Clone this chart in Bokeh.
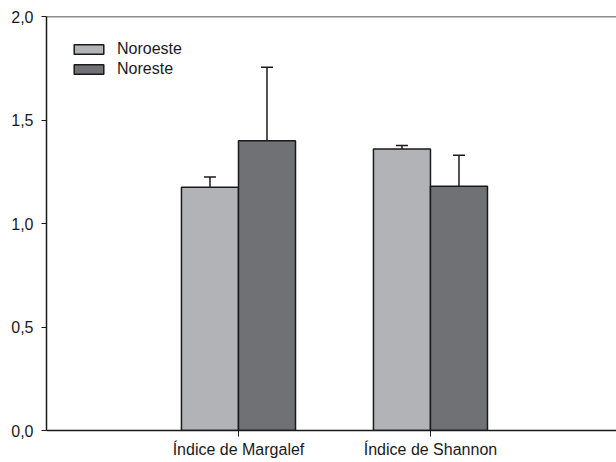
from bokeh.plotting import figure
from bokeh.models import (ColumnDataSource, FixedTicker, CustomJSTickFormatter, Whisker,
                          TeeHead, Span, Legend, LegendItem, Range1d)
from bokeh.embed import file_html
from bokeh.resources import INLINE

categories = ["Índice de Margalef", "Índice de Shannon"]
series = ["Noroeste", "Noreste"]
noroeste = [1.175, 1.36]
noroeste_err = [0.05, 0.017]
noreste = [1.40, 1.18]
noreste_err = [0.355, 0.15]
y_ticks = [0.0, 0.5, 1.0, 1.5, 2.0]

colors = ["#b2b3b7", "#707175"]
bar_w = 0.297
FONT = "Liberation Sans"

p = figure(width=616, height=462, output_backend="svg", toolbar_location=None,
           x_range=Range1d(0, 2.969), y_range=Range1d(0, 2.0),
           min_border_left=46, min_border_top=16, min_border_right=0, min_border_bottom=32)
p.outline_line_color = None
p.grid.visible = False
p.background_fill_color = "white"

xs = list(range(1, len(categories) + 1))
renderers = []
for i, (vals, errs) in enumerate([(noroeste, noroeste_err), (noreste, noreste_err)]):
    off = (i - 0.5) * bar_w
    src = ColumnDataSource(dict(
        x=[x + off for x in xs], top=vals,
        upper=[v + e for v, e in zip(vals, errs)]))
    r = p.vbar(x="x", top="top", width=bar_w, bottom=0, source=src,
               fill_color=colors[i], line_color="#1a1a1a", line_width=1.5)
    renderers.append(r)
    w = Whisker(base="x", lower="top", upper="upper", source=src,
                line_color="#1a1a1a", line_width=1.5,
                upper_head=TeeHead(size=12, line_color="#1a1a1a", line_width=1.5),
                lower_head=None)
    p.add_layout(w)

p.add_layout(Span(location=2.0, dimension="width", line_color="#1a1a1a", line_width=1.5))

# y axis
p.yaxis.ticker = FixedTicker(ticks=y_ticks)
p.yaxis.formatter = CustomJSTickFormatter(code="return tick.toFixed(1).replace('.', ',');")
p.yaxis.minor_tick_line_color = None
p.yaxis.major_tick_in = 0
p.yaxis.major_tick_out = 5
p.yaxis.major_label_standoff = 8
p.yaxis.axis_line_width = 1.5
p.yaxis.axis_line_color = "#1a1a1a"
p.yaxis.major_tick_line_color = "#1a1a1a"
p.yaxis.major_label_text_font = FONT
p.yaxis.major_label_text_font_size = "16px"
p.yaxis.major_label_text_color = "#1a1a1a"

# x axis
p.xaxis.ticker = FixedTicker(ticks=xs)
p.xaxis.major_label_overrides = {x: c for x, c in zip(xs, categories)}
p.xaxis.minor_tick_line_color = None
p.xaxis.major_tick_in = 0
p.xaxis.major_tick_out = 6
p.xaxis.major_label_standoff = 4
p.xaxis.axis_line_width = 1.5
p.xaxis.axis_line_color = "#1a1a1a"
p.xaxis.major_tick_line_color = "#1a1a1a"
p.xaxis.major_label_text_font = FONT
p.xaxis.major_label_text_font_size = "16px"
p.xaxis.major_label_text_color = "#1a1a1a"

legend = Legend(items=[LegendItem(label=s, renderers=[r]) for s, r in zip(series, renderers)],
                location="top_left", border_line_color=None, background_fill_alpha=0,
                label_text_font=FONT, label_text_font_size="16px", label_text_color="#1a1a1a",
                glyph_width=37, glyph_height=12, label_height=18, spacing=2,
                margin=24, padding=4, label_standoff=10)
p.add_layout(legend)

open("out.html", "w").write(file_html(p, INLINE))
